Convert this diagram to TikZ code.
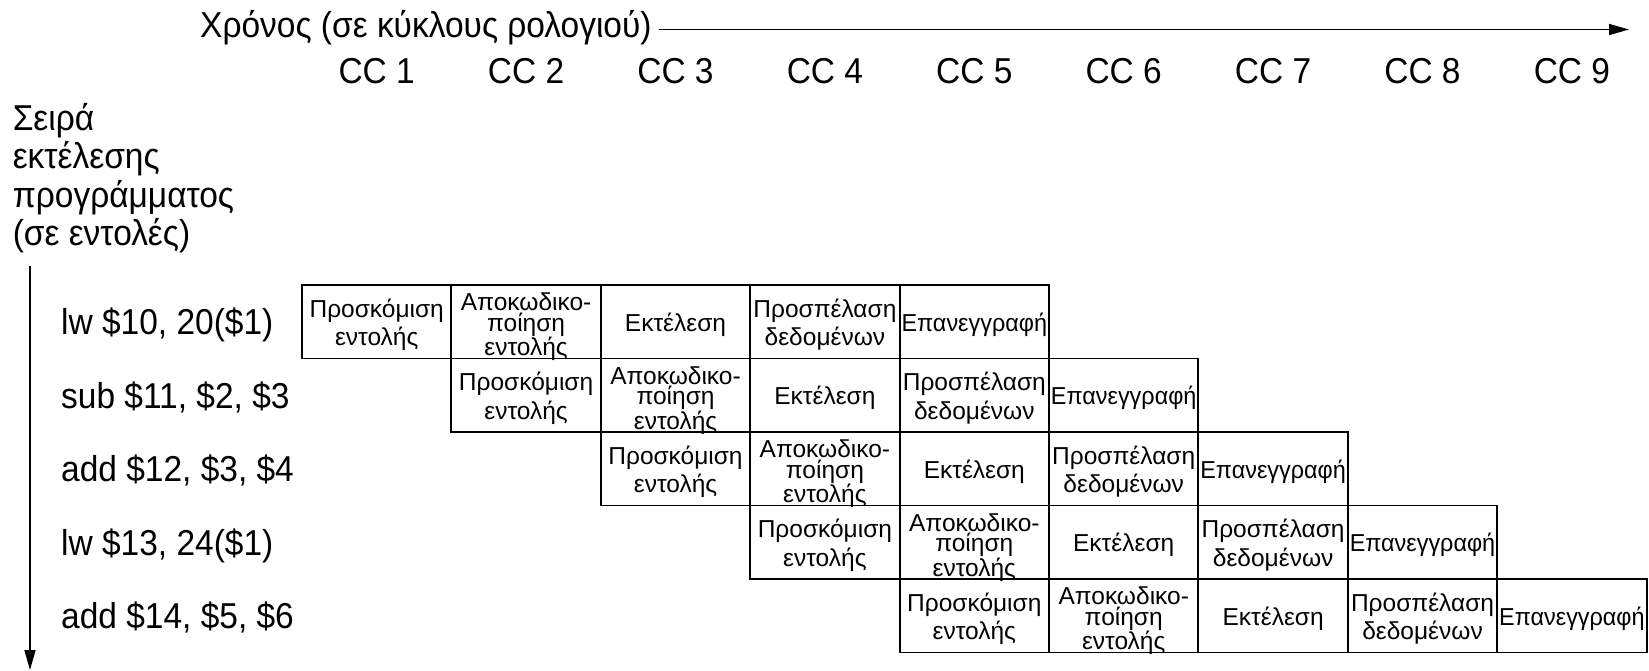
\documentclass[tikz,border=0pt]{standalone}
\usepackage{fontspec}
\setmainfont{Liberation Sans}
\newfontfamily\narrowfont[FakeStretch=0.93]{Liberation Sans}
\newfontfamily\slimfont[FakeStretch=0.955]{Liberation Sans}
\usetikzlibrary{arrows.meta}
\begin{document}
\begin{tikzpicture}[x=1pt,y=-1pt,
  big/.style={font=\narrowfont\fontsize{36}{38.5}\selectfont, inner sep=0pt},
  stage/.style={draw, line width=1.9pt, minimum width=149.4pt, minimum height=73.5pt, inner sep=0pt},
  stagetxt/.style={inner sep=0pt, align=center, font=\fontsize{24.5}{28.5}\selectfont},
  stagetxt3/.style={inner sep=0pt, align=center, font=\fontsize{24.5}{20.5}\selectfont},
  arr/.style={line width=1.6pt, -{Triangle[length=20pt,width=11pt]}},
]
\useasboundingbox (0,0) rectangle (1649,671);
% time axis
\node[big, anchor=base west] (title) at (200,38) {Χρόνος (σε κύκλους ρολογιού)};
\coordinate (tend) at (1629,29.5);
\draw[arr] ([xshift=7pt]title.east |- tend) -- (tend);
\foreach \k in {1,...,9}{
  \node[big, anchor=base] (cc\k) at ({302+149.4*(\k-0.5)},84) {CC \k};
}
% order axis
\node[big, anchor=north west, align=left] (order) at (12.6,103) {Σειρά\\εκτέλεσης\\προγράμματος\\(σε εντολές)};
\coordinate (vtop) at (30,266);
\coordinate (vbot) at (30,670);
\draw[arr] (vtop) -- (vbot);
% pipeline
\foreach \i/\ins in {1/{lw \$10, 20(\$1)},2/{sub \$11, \$2, \$3},3/{add \$12, \$3, \$4},4/{lw \$13, 24(\$1)},5/{add \$14, \$5, \$6}}{
  \pgfmathsetmacro{\yc}{285+73.5*(\i-0.5)}
  \pgfmathsetmacro{\xf}{302+149.4*(\i-0.5)}
  \pgfmathsetmacro{\xd}{\xf+149.4}
  \pgfmathsetmacro{\xe}{\xf+2*149.4}
  \pgfmathsetmacro{\xm}{\xf+3*149.4}
  \pgfmathsetmacro{\xw}{\xf+4*149.4}
  \node[big, anchor=base west] (ins\i) at (61,\yc+13) {\ins};
  \node[stage] (f\i) at (\xf,\yc) {};
  \node[stage] (d\i) at (\xd,\yc) {};
  \node[stage] (e\i) at (\xe,\yc) {};
  \node[stage] (m\i) at (\xm,\yc) {};
  \node[stage] (w\i) at (\xw,\yc) {};
  \node[stagetxt] (ft\i) at ([yshift=-3pt]f\i.center) {Προσκόμιση\\εντολής};
  \node[stagetxt3] (dt\i) at ([yshift=-5pt]d\i.center) {Αποκωδικο-\\ποίηση\\εντολής};
  \node[stagetxt] (et\i) at ([yshift=-3pt]e\i.center) {Εκτέλεση};
  \node[stagetxt] (mt\i) at ([yshift=-3pt]m\i.center) {Προσπέλαση\\δεδομένων};
  \node[stagetxt, font=\slimfont\fontsize{24.5}{28.5}\selectfont] (wt\i) at ([yshift=-3pt]w\i.center) {Επανεγγραφή};
}
\end{tikzpicture}
\end{document}
